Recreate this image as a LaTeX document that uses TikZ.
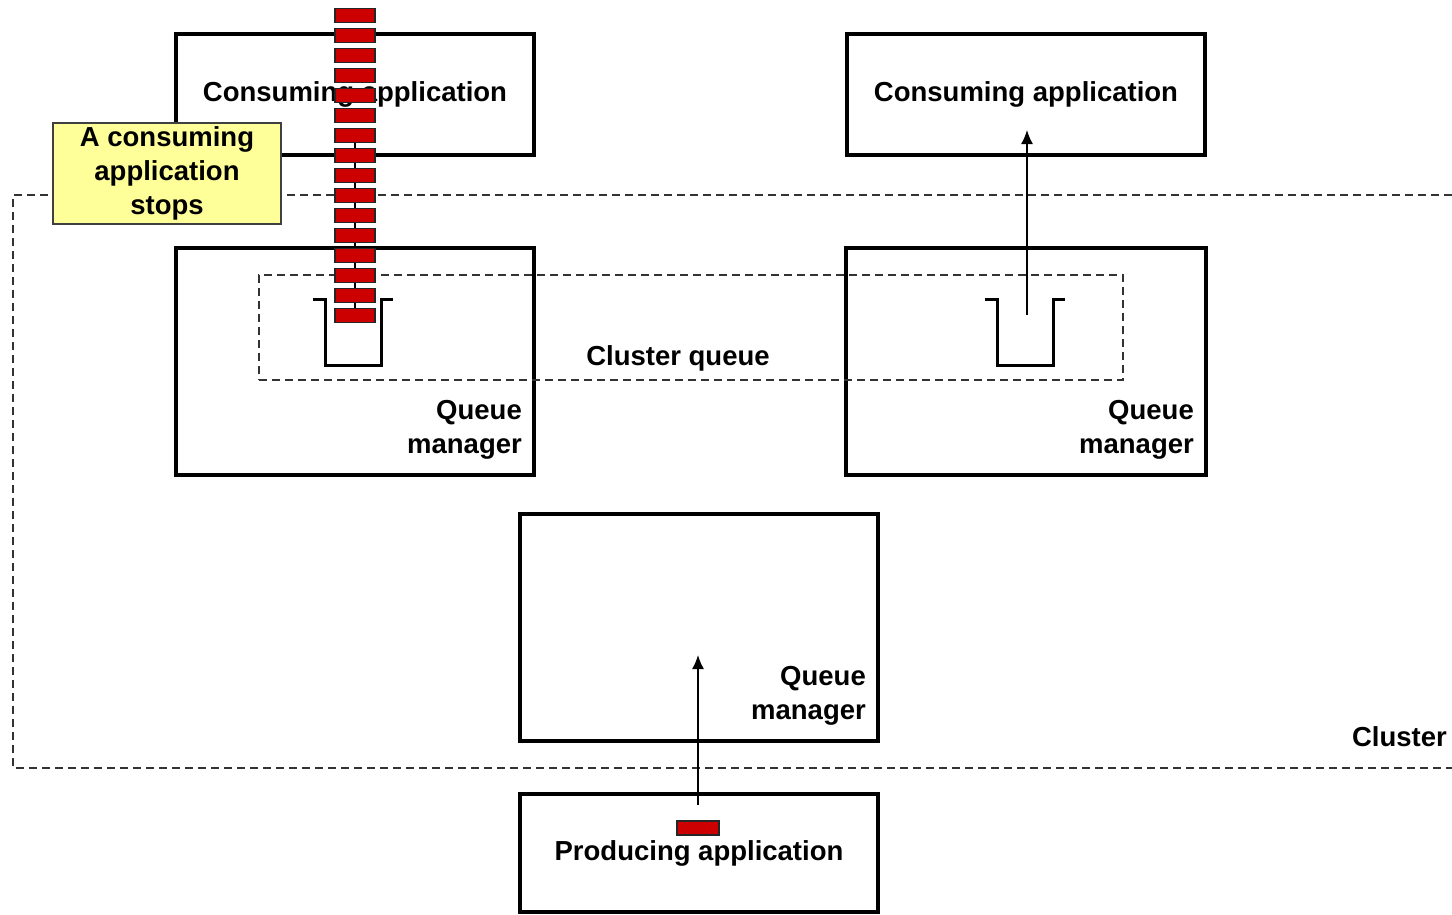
\documentclass[tikz,border=0pt]{standalone}
\usepackage{fontspec}
\setmainfont{Liberation Sans}
\usetikzlibrary{arrows.meta}
\definecolor{msgred}{HTML}{CC0000}
\definecolor{notefill}{HTML}{FFFF99}
\definecolor{dashgray}{HTML}{333333}
\tikzset{
  lbl/.style={font=\fontsize{27.5}{34}\selectfont\bfseries},
  appbox/.style={draw=black, line width=4pt, fill=white, minimum width=358pt, inner sep=0pt, lbl},
  qmbox/.style={draw=black, line width=4pt, fill=white, minimum width=358pt, minimum height=227pt, inner sep=0pt},
  zone/.style={draw=dashgray, line width=1.5pt, dash pattern=on 8pt off 5pt},
  queue/.style={draw=black, line width=3pt, line join=miter},
  flow/.style={draw=black, line width=1.5pt, -{Latex[length=14pt,width=12pt]}},
  msg/.style={draw=black!85, line width=1.3pt, fill=msgred, minimum width=40pt, minimum height=13.5pt, inner sep=0pt},
  note/.style={draw=black!75, line width=1.5pt, fill=notefill, minimum width=228pt, minimum height=101pt, align=center, inner sep=0pt, lbl},
  qmlabel/.style={lbl, align=right, anchor=east, inner sep=0pt}
}
\begin{document}
\begin{tikzpicture}[x=1pt, y=-1pt]
\useasboundingbox (0,0) rectangle (1452,914);

% cluster boundary, open to the right
\coordinate (clTR) at (1452,195);
\coordinate (clTL) at (13,195);
\coordinate (clBL) at (13,768);
\coordinate (clBR) at (1452,768);
\draw[zone] (clTR) -- (clTL) -- (clBL) -- (clBR);
\node[lbl, anchor=east, inner sep=0pt] (cllabel) at (1447,737) {Cluster};

% applications
\node[appbox, minimum height=121pt] (capL) at (355,94.5) {Consuming application};
\node[appbox, minimum height=121pt] (capR) at (1026,94.5) {Consuming application};
\node[appbox, minimum height=118pt] (prod) at (699,853) {Producing application};

% queue managers
\node[qmbox] (qmL) at (355,361.5) {};
\node[qmbox, minimum width=360pt] (qmR) at (1026,361.5) {};
\node[qmbox] (qmB) at (699,627.5) {};
\node[qmlabel] (qmLlab) at (522,430) {Queue\\manager};
\node[qmlabel] (qmRlab) at (1194,430) {Queue\\manager};
\node[qmlabel] (qmBlab) at (866,696) {Queue\\manager};

% cluster queue spanning both hosting queue managers
\node[zone, minimum width=864pt, minimum height=105pt, inner sep=0pt] (cq) at (691,327.5) {};
\node[lbl, inner sep=0pt] (cqlabel) at (678,358) {Cluster queue};

% local instances of the queue
\draw[queue] (313,299) -- (325,299) -- (325,365) -- (381,365) -- (381,299) -- (393,299);
\draw[queue] (985,299) -- (997,299) -- (997,365) -- (1053,365) -- (1053,299) -- (1065,299);

% message flows
\coordinate (getL) at (355,315);
\coordinate (appL) at (355,136);
\coordinate (getR) at (1027,315);
\coordinate (appR) at (1027,130);
\coordinate (putB) at (698,805);
\coordinate (qmBin) at (698,655);
\draw[draw=black, line width=1.5pt] (getL) -- (appL);
\draw[flow] (getR) -- (appR);
\draw[flow] (putB) -- (qmBin);

% messages piling up on the stopped application's queue
\foreach \k in {0,...,15} {
  \node[msg] (m\k) at (355,{15.5+20*\k}) {};
}
\node[msg, minimum width=42pt, minimum height=14pt] (mprod) at (698,828) {};

% callout
\node[note] (stopnote) at (167,173.5) {A consuming\\application\\stops};
\end{tikzpicture}
\end{document}
